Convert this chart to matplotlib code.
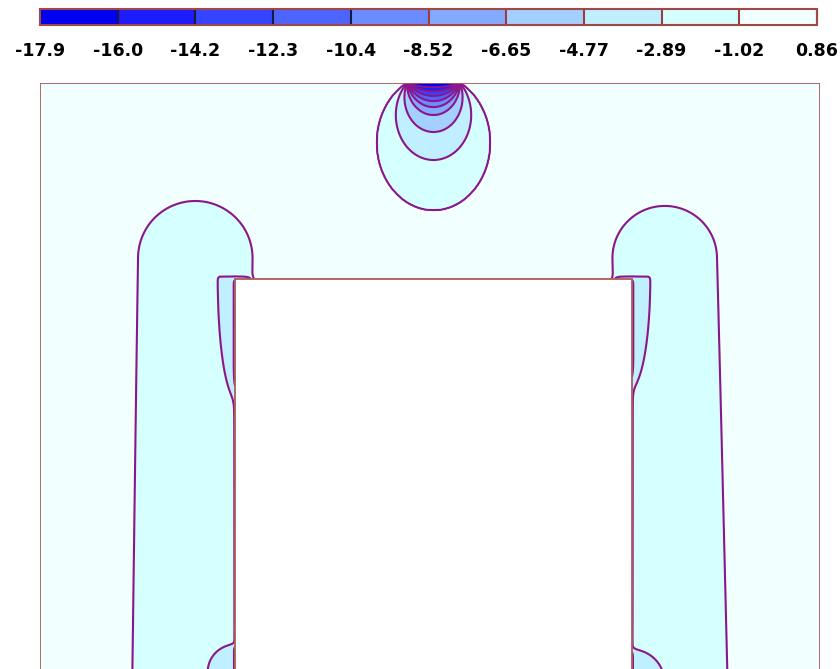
import numpy as np
import matplotlib.pyplot as plt
from matplotlib.patches import Rectangle

# --- Legend: contour levels and band colours ---
LEVELS = [-17.9, -16.0, -14.2, -12.3, -10.4, -8.52, -6.65, -4.77, -2.89, -1.02, 0.86]
LEVEL_LABELS = ['-17.9', '-16.0', '-14.2', '-12.3', '-10.4', '-8.52',
                '-6.65', '-4.77', '-2.89', '-1.02', '0.86']
BAND_COLORS = ['#0000f0', '#1c1cff', '#3444ff', '#4e64ff', '#6a8cff',
               '#84aaff', '#a4d0ff', '#c0f0ff', '#d6ffff', '#f2ffff']
DIVIDER_COLORS = ['#1a1a3c'] * 4 + ['#9c3c3c'] * 5

LINE_COLOR = '#8b168b'
BOX_COLOR = '#b05a5a'

# --- Geometry of the section (pixel-sized units, y pointing down) ---
OUTER_BOX = (40, 83, 820, 700)     # x0, y0, x1, y1
INNER_BOX = (235, 279, 632, 700)

BACKGROUND_VALUE = -0.3

# load strip on the top face: ends, depth scaling, drop vs. subtended angle
TOP_STRIP = (407, 460)
TOP_DEPTH_SCALE = 0.838
TOP_ANGLES = [0.0, 0.488, 0.779, 1.146, 1.56, 1.84, np.pi]
TOP_DROPS = [0.0, 0.72, 2.59, 4.47, 6.35, 8.22, 17.6]

# side lobes next to the inner block
LOBE_TOP = [(195, 258), (665, 258)]
LOBE_BOTTOM = [(189, 700), (676, 700)]
LOBE_RADIUS = [56, 51]
LOBE_DEPTH = 1.6

# thin layer along the vertical faces of the block
EDGE_X = [235, 632]
EDGE_DEPTH = 1.03
EDGE_DECAY = 3.0

# concentrations at the top corners of the block
CORNER_CENTER = [(235, 278), (632, 278)]
CORNER_AXES = [(17, 115), (18, 105)]
CORNER_DEPTH = 2.0

# concentrations at the foot of the block
FOOT_CENTER = [(235, 672), (632, 682)]
FOOT_RADIUS = [27, 32]
FOOT_DEPTH = 2.0


def sigmoid(z):
    return 1.0 / (1.0 + np.exp(-z))


def segment_distance(x, y, p0, p1):
    dx, dy = p1[0] - p0[0], p1[1] - p0[1]
    t = np.clip(((x - p0[0]) * dx + (y - p0[1]) * dy) / (dx * dx + dy * dy), 0, 1)
    return np.hypot(x - (p0[0] + t * dx), y - (p0[1] + t * dy))


def build_field(x, y):
    f = np.full_like(x, BACKGROUND_VALUE)

    # strip load on the top face
    d = TOP_DEPTH_SCALE * (y - OUTER_BOX[1]) + 1e-6
    theta = np.arctan((x - TOP_STRIP[0]) / d) - np.arctan((x - TOP_STRIP[1]) / d)
    f -= np.interp(theta, TOP_ANGLES, TOP_DROPS)

    # side lobes
    for p0, p1, r in zip(LOBE_TOP, LOBE_BOTTOM, LOBE_RADIUS):
        dist = segment_distance(x, y, p0, p1)
        f -= LOBE_DEPTH * sigmoid((r - dist) / 2.0)

    gate = sigmoid((y - INNER_BOX[1]) / 1.0)
    for ex in EDGE_X:
        f -= EDGE_DEPTH * np.exp(-np.abs(x - ex) / EDGE_DECAY) * gate

    for (cx, cy), (ax_, ay_) in zip(CORNER_CENTER, CORNER_AXES):
        rho = np.hypot((x - cx) / ax_, (y - cy) / ay_)
        f -= CORNER_DEPTH * sigmoid((1 - rho) / 0.04) * sigmoid((y - 277) / 1.0)

    for (cx, cy), r in zip(FOOT_CENTER, FOOT_RADIUS):
        rho = np.hypot(x - cx, y - cy) / r
        f -= FOOT_DEPTH * sigmoid((1 - rho) / 0.04)

    return f


def main():
    fig = plt.figure(figsize=(8.4, 6.69), dpi=100)
    W, H = 840, 669

    x0, y0, x1, y1 = OUTER_BOX
    ax = fig.add_axes([x0 / W, 1 - 674 / H, (x1 - x0) / W, (674 - y0) / H])

    xs = np.arange(x0, x1 + 0.5, 1.0)
    ys = np.arange(y0, y1 + 0.5, 1.0)
    X, Y = np.meshgrid(xs, ys)
    F = build_field(X, Y)
    F = np.clip(F, LEVELS[0] + 1e-3, LEVELS[-1] - 1e-3)

    cs = ax.contourf(X, Y, F, levels=LEVELS, colors=BAND_COLORS)
    ax.contour(X, Y, F, levels=LEVELS[1:-1], colors=LINE_COLOR,
               linewidths=1.5, linestyles='solid')

    ix0, iy0, ix1, iy1 = INNER_BOX
    ax.add_patch(Rectangle((ix0, iy0), ix1 - ix0, iy1 - iy0, facecolor='white',
                           edgecolor=BOX_COLOR, linewidth=1.3, zorder=3))
    ax.add_patch(Rectangle((x0, y0), x1 - x0, y1 - y0, fill=False,
                           edgecolor=BOX_COLOR, linewidth=1.3, zorder=4))

    ax.set_xlim(x0, x1)
    ax.set_ylim(674, y0)
    ax.axis('off')

    # colour bar across the top
    cax = fig.add_axes([40 / W, 1 - 25 / H, 777 / W, 16 / H])
    cb = fig.colorbar(cs, cax=cax, orientation='horizontal', drawedges=True)
    cb.set_ticks(LEVELS, labels=LEVEL_LABELS)
    cax.tick_params(length=0, pad=12)
    for t in cax.get_xticklabels():
        t.set_fontweight('bold')
        t.set_fontsize(12.5)
        t.set_fontfamily('DejaVu Sans')
    cb.outline.set_edgecolor('#a04848')
    cb.outline.set_linewidth(1.5)
    cb.dividers.set_color(DIVIDER_COLORS)
    cb.dividers.set_linewidth(1.5)

    fig.savefig('out.png', dpi=100)


if __name__ == '__main__':
    main()
